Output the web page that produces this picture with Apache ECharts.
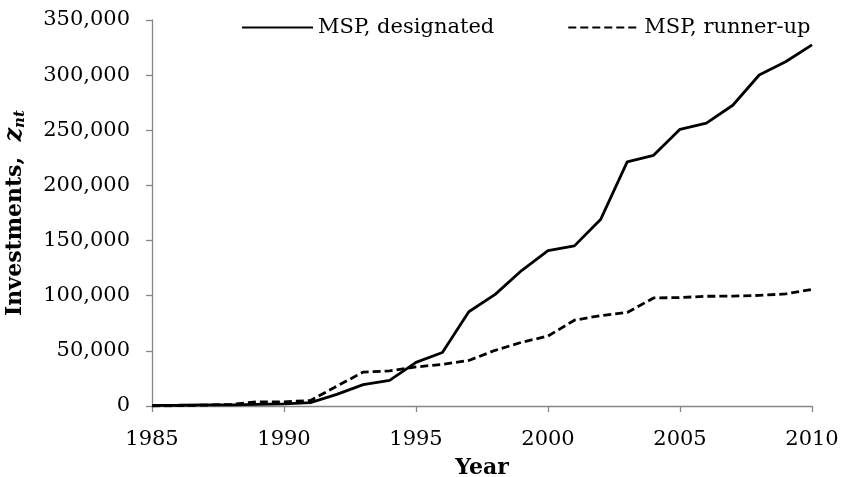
<!DOCTYPE html>
<html>
<head>
<meta charset="utf-8">
<title>MSP investments</title>
<script src="https://cdn.jsdelivr.net/npm/echarts@6/dist/echarts.min.js"></script>
<style>
	html, body { margin: 0; padding: 0; background: #fff; }
	#chart { width: 841px; height: 477px; }
</style>
</head>
<body>
<div id="chart"></div>
<script>
var years = [1985, 1986, 1987, 1988, 1989, 1990, 1991, 1992, 1993, 1994, 1995, 1996, 1997,
	1998, 1999, 2000, 2001, 2002, 2003, 2004, 2005, 2006, 2007, 2008, 2009, 2010];
var designated = [500, 700, 1000, 1000, 1500, 2000, 3000, 10500, 19400, 23300, 39600, 48500, 85500,
	101200, 122800, 140900, 145200, 169400, 221400, 227300, 250900, 256500, 272700, 300100, 312100, 327500];
var runnerUp = [0, 300, 800, 1500, 3800, 3800, 5000, 18000, 30800, 31800, 35400, 37800, 41300,
	50500, 57800, 63400, 77800, 82000, 84800, 98000, 98300, 99500, 99600, 100300, 101600, 105800];
var seriesNames = ['MSP, designated', 'MSP, runner-up'];
var yTicks = [0, 50000, 100000, 150000, 200000, 250000, 300000, 350000];

var main = {
	font: '"DejaVu Serif", serif',
	init: function() {
		var myChart = echarts.init(document.getElementById('chart'));
		var pairs = function(ys) {
			return years.map(function(y, i) { return [y, ys[i]]; });
		};
		var axisGray = '#868686';

		var option = {
			animation: false,
			textStyle: { fontFamily: main.font, color: '#000' },
			grid: { left: 152, right: 29, top: 20, bottom: 71, containLabel: false, outerBoundsMode: 'none' },
			legend: {
				left: 236,
				top: 12,
				itemWidth: 71,
				itemHeight: 14,
				itemGap: 73,
				itemStyle: { opacity: 0 },
				textStyle: { fontFamily: main.font, fontSize: 21, color: '#000' },
				data: seriesNames
			},
			xAxis: {
				type: 'value',
				min: 1985,
				max: 2010,
				interval: 5,
				splitLine: { show: false },
				axisLine: { lineStyle: { color: axisGray, width: 1.3 } },
				axisTick: { show: true, length: 6, lineStyle: { color: axisGray, width: 1.3 } },
				axisLabel: {
					fontSize: 21,
					color: '#000',
					margin: 23,
					formatter: function(v) { return String(v); }
				},
				name: 'Year',
				nameLocation: 'middle',
				nameGap: 51,
				nameTextStyle: { fontFamily: main.font, fontSize: 22, fontWeight: 'bold', color: '#000' }
			},
			yAxis: {
				type: 'value',
				min: yTicks[0],
				max: yTicks[yTicks.length - 1],
				interval: 50000,
				splitLine: { show: false },
				axisLine: { show: true, lineStyle: { color: axisGray, width: 1.3 } },
				axisTick: { show: true, length: 6, lineStyle: { color: axisGray, width: 1.3 } },
				axisLabel: {
					fontSize: 21,
					color: '#000',
					margin: 22,
					formatter: function(v) { return v.toLocaleString('en-US'); }
				},
				name: '{b|Investments,  }{z|z}{s|nt}',
				nameLocation: 'middle',
				nameGap: 122,
				nameTextStyle: {
					rich: {
						b: { fontFamily: main.font, fontSize: 22, fontWeight: 'bold', color: '#000', lineHeight: 30, verticalAlign: 'middle' },
						z: { fontFamily: main.font, fontSize: 24, fontWeight: 'bold', fontStyle: 'italic', color: '#000', lineHeight: 30, verticalAlign: 'middle' },
						s: { fontFamily: main.font, fontSize: 15, fontWeight: 'bold', fontStyle: 'italic', color: '#000', lineHeight: 30, verticalAlign: 'bottom', padding: [0, 0, 2, 0] }
					}
				}
			},
			series: [{
				name: seriesNames[0],
				type: 'line',
				symbol: 'none',
				lineStyle: { color: '#000', width: 2.8 },
				itemStyle: { color: '#000' },
				data: pairs(designated)
			}, {
				name: seriesNames[1],
				type: 'line',
				symbol: 'none',
				lineStyle: { color: '#000', width: 2.8, type: [8, 4] },
				itemStyle: { color: '#000' },
				data: pairs(runnerUp)
			}]
		};

		myChart.setOption(option);
	}
};

main.init();
</script>
</body>
</html>
